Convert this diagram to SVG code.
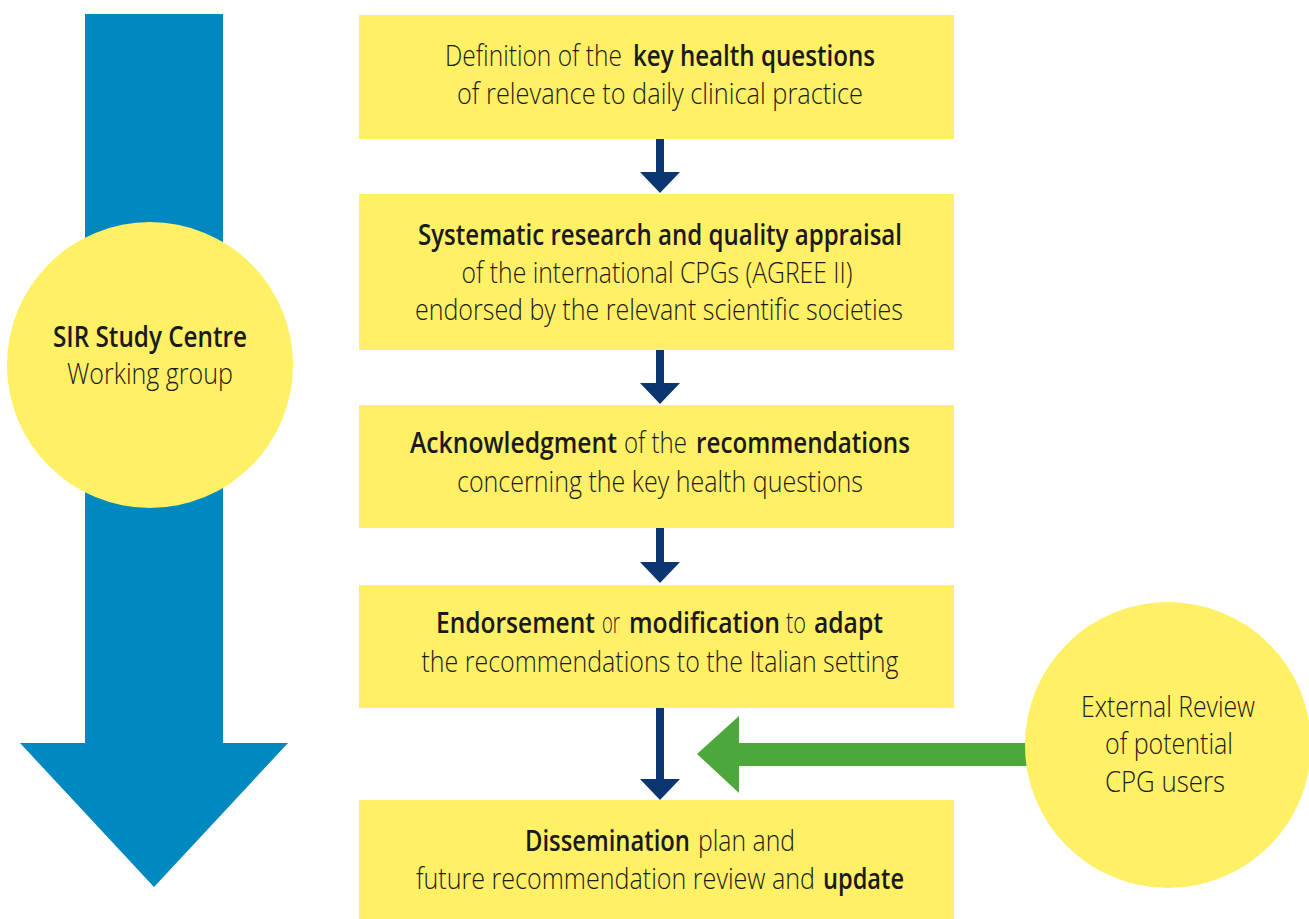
<svg xmlns="http://www.w3.org/2000/svg" width="1309" height="919" viewBox="0 0 1309 919">
<style>
.box{fill:#FFF066;}
.circ{fill:#FFF066;}
text{font-family:"Open Sans","Noto Sans","Liberation Sans",sans-serif;font-size:29px;fill:#1a1a1a;text-anchor:middle;font-weight:300;}
.s{text-anchor:start;}
.b{font-weight:600;}
.nav{fill:#0B3672;}
</style>
<rect width="1309" height="919" fill="#ffffff"/>
<g id="flow-arrow">
<polygon points="85,14 223,14 223,743 288,743 154,887 20,743 85,743" fill="#0088C0"/>
</g>
<g id="connectors">
<polygon class="nav" points="656,139 664,139 664,172 680,172 660,193 640,172 656,172"/>
<polygon class="nav" points="656,350 664,350 664,383 680,383 660,404 640,383 656,383"/>
<polygon class="nav" points="656,528 664,528 664,562 680,562 660,583 640,562 656,562"/>
<polygon class="nav" points="656,708 664,708 664,779 680,779 660,800 640,779 656,779"/>
<polygon points="1030,743 739,743 739,716 697,754 739,793 739,766 1030,766" fill="#4CA83A"/>
</g>
<g id="sir-centre">
<circle class="circ" cx="150" cy="365" r="143"/>
<text class="b" x="150" y="347" textLength="194" lengthAdjust="spacingAndGlyphs">SIR Study Centre</text>
<text x="150" y="384" textLength="166" lengthAdjust="spacingAndGlyphs">Working group</text>
</g>
<g id="external-review">
<circle class="circ" cx="1168" cy="745" r="143"/>
<text x="1168" y="717" textLength="174" lengthAdjust="spacingAndGlyphs">External Review</text>
<text x="1169" y="754" textLength="128" lengthAdjust="spacingAndGlyphs">of potential</text>
<text x="1165" y="792" textLength="120" lengthAdjust="spacingAndGlyphs">CPG users</text>
</g>
<g id="step1">
<rect class="box" x="359" y="15" width="595" height="124"/>
<text class="s" x="445" y="66" textLength="177" lengthAdjust="spacingAndGlyphs">Definition of the</text>
<text class="s b" x="633" y="66" textLength="242" lengthAdjust="spacingAndGlyphs">key health questions</text>
<text x="660" y="104" textLength="406" lengthAdjust="spacingAndGlyphs">of relevance to daily clinical practice</text>
</g>
<g id="step2">
<rect class="box" x="359" y="194" width="595" height="156"/>
<text class="b" x="660" y="245" textLength="484" lengthAdjust="spacingAndGlyphs">Systematic research and quality appraisal</text>
<text x="657" y="283" textLength="391" lengthAdjust="spacingAndGlyphs">of the international CPGs (AGREE II)</text>
<text x="659" y="320" textLength="488" lengthAdjust="spacingAndGlyphs">endorsed by the relevant scientific societies</text>
</g>
<g id="step3">
<rect class="box" x="359" y="405" width="595" height="123"/>
<text class="s b" x="410" y="453" textLength="207" lengthAdjust="spacingAndGlyphs">Acknowledgment</text>
<text class="s" x="624" y="453" textLength="63" lengthAdjust="spacingAndGlyphs">of the</text>
<text class="s b" x="696" y="453" textLength="214" lengthAdjust="spacingAndGlyphs">recommendations</text>
<text x="660" y="492" textLength="406" lengthAdjust="spacingAndGlyphs">concerning the key health questions</text>
</g>
<g id="step4">
<rect class="box" x="359" y="585" width="595" height="123"/>
<text class="s b" x="436" y="633" textLength="159" lengthAdjust="spacingAndGlyphs">Endorsement</text>
<text class="s" x="602" y="633" textLength="18" lengthAdjust="spacingAndGlyphs">or</text>
<text class="s b" x="629" y="633" textLength="151" lengthAdjust="spacingAndGlyphs">modification</text>
<text class="s" x="786" y="633" textLength="20" lengthAdjust="spacingAndGlyphs">to</text>
<text class="s b" x="814" y="633" textLength="69" lengthAdjust="spacingAndGlyphs">adapt</text>
<text x="660" y="672" textLength="477" lengthAdjust="spacingAndGlyphs">the recommendations to the Italian setting</text>
</g>
<g id="step5">
<rect class="box" x="359" y="800" width="595" height="119"/>
<text class="s b" x="525" y="851" textLength="165" lengthAdjust="spacingAndGlyphs">Dissemination</text>
<text class="s" x="698" y="851" textLength="97" lengthAdjust="spacingAndGlyphs">plan and</text>
<text class="s" x="416" y="889" textLength="399" lengthAdjust="spacingAndGlyphs">future recommendation review and</text>
<text class="s b" x="823" y="889" textLength="81" lengthAdjust="spacingAndGlyphs">update</text>
</g>
</svg>
